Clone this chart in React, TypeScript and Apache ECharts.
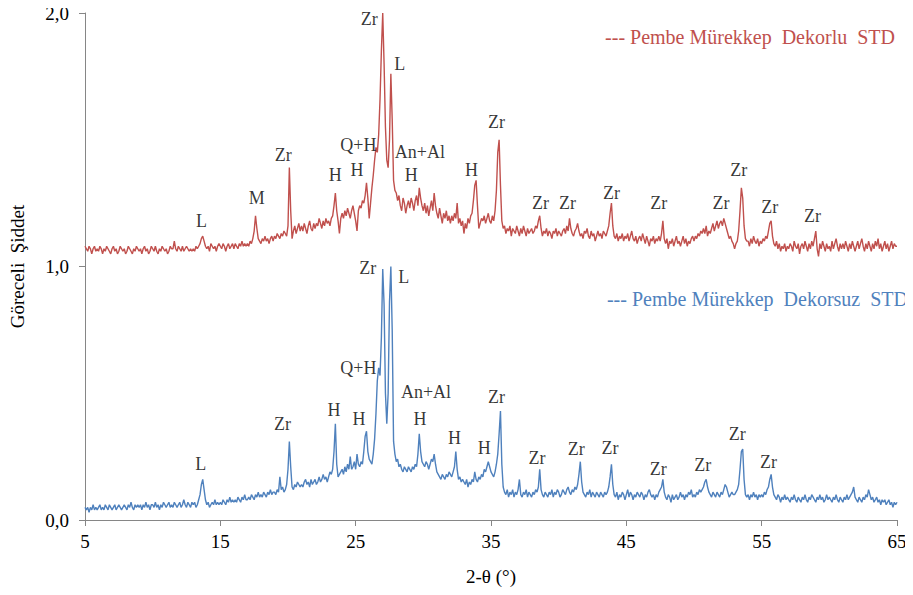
import React, { useEffect, useRef } from "react";
import * as echarts from "echarts";

// 2-theta grid: 5.0 .. 65.0 step 0.1 (601 points); intensities
const startDeg = 5;
const endDeg = 65;

const redValues: number[] = [
  1.08,1.07,1.06,1.08,1.07,1.05,1.07,1.08,1.06,1.07,
  1.06,1.08,1.07,1.05,1.07,1.06,1.08,1.07,1.06,1.05,
  1.07,1.08,1.06,1.07,1.05,1.06,1.08,1.07,1.06,1.07,
  1.05,1.06,1.08,1.07,1.06,1.05,1.07,1.06,1.08,1.07,
  1.06,1.07,1.05,1.07,1.08,1.06,1.07,1.05,1.06,1.08,
  1.07,1.06,1.08,1.06,1.05,1.07,1.06,1.08,1.07,1.06,
  1.07,1.05,1.06,1.08,1.07,1.07,1.10,1.07,1.06,1.08,
  1.07,1.06,1.08,1.06,1.07,1.08,1.07,1.06,1.07,1.06,
  1.07,1.06,1.08,1.07,1.08,1.09,1.11,1.12,1.10,1.08,
  1.07,1.08,1.06,1.09,1.08,1.07,1.08,1.06,1.08,1.09,
  1.08,1.07,1.09,1.08,1.06,1.08,1.09,1.07,1.08,1.09,
  1.07,1.09,1.08,1.07,1.09,1.08,1.10,1.08,1.09,1.08,
  1.09,1.08,1.10,1.09,1.11,1.14,1.20,1.15,1.11,1.10,
  1.09,1.11,1.10,1.12,1.10,1.11,1.09,1.11,1.12,1.10,
  1.12,1.11,1.13,1.12,1.11,1.13,1.12,1.14,1.13,1.12,
  1.16,1.39,1.22,1.11,1.14,1.16,1.13,1.15,1.17,1.14,
  1.16,1.14,1.17,1.15,1.13,1.16,1.18,1.15,1.14,1.17,
  1.15,1.17,1.16,1.19,1.17,1.15,1.18,1.16,1.19,1.17,
  1.18,1.16,1.19,1.20,1.24,1.29,1.22,1.18,1.13,1.19,
  1.21,1.19,1.22,1.20,1.23,1.21,1.19,1.22,1.24,1.21,
  1.18,1.14,1.22,1.24,1.23,1.26,1.25,1.28,1.33,1.27,
  1.19,1.25,1.31,1.36,1.42,1.47,1.45,1.52,1.66,1.85,
  2.00,1.80,1.55,1.42,1.39,1.50,1.76,1.58,1.34,1.30,
  1.29,1.26,1.28,1.24,1.22,1.27,1.25,1.21,1.24,1.26,
  1.23,1.27,1.25,1.22,1.26,1.28,1.24,1.31,1.27,1.24,
  1.22,1.25,1.21,1.24,1.20,1.23,1.26,1.22,1.29,1.24,
  1.21,1.19,1.23,1.20,1.17,1.21,1.19,1.22,1.18,1.20,
  1.17,1.20,1.18,1.21,1.19,1.25,1.17,1.19,1.16,1.18,
  1.13,1.17,1.15,1.19,1.17,1.20,1.21,1.26,1.32,1.34,
  1.24,1.15,1.17,1.19,1.18,1.20,1.17,1.19,1.21,1.18,
  1.17,1.20,1.18,1.22,1.30,1.45,1.50,1.32,1.18,1.15,
  1.16,1.13,1.15,1.14,1.16,1.12,1.15,1.14,1.13,1.16,
  1.14,1.12,1.15,1.13,1.16,1.14,1.12,1.15,1.13,1.14,
  1.15,1.13,1.14,1.16,1.15,1.18,1.20,1.15,1.12,1.14,
  1.13,1.15,1.12,1.14,1.13,1.11,1.14,1.13,1.15,1.12,
  1.14,1.13,1.12,1.14,1.15,1.13,1.16,1.14,1.19,1.15,
  1.13,1.12,1.14,1.15,1.17,1.14,1.12,1.13,1.11,1.14,
  1.13,1.15,1.12,1.11,1.14,1.12,1.13,1.10,1.12,1.14,
  1.12,1.13,1.11,1.14,1.13,1.12,1.14,1.16,1.21,1.25,
  1.16,1.12,1.11,1.13,1.10,1.12,1.11,1.13,1.10,1.12,
  1.11,1.13,1.10,1.12,1.14,1.11,1.10,1.12,1.09,1.11,
  1.12,1.10,1.13,1.11,1.09,1.12,1.10,1.08,1.11,1.10,
  1.12,1.09,1.11,1.10,1.12,1.10,1.13,1.18,1.11,1.09,
  1.11,1.07,1.10,1.09,1.11,1.08,1.10,1.12,1.09,1.10,
  1.08,1.10,1.12,1.09,1.11,1.08,1.10,1.09,1.11,1.12,
  1.10,1.12,1.11,1.13,1.12,1.14,1.13,1.15,1.13,1.16,
  1.12,1.14,1.13,1.15,1.17,1.14,1.16,1.18,1.15,1.17,
  1.18,1.16,1.19,1.17,1.15,1.13,1.11,1.12,1.10,1.09,
  1.07,1.09,1.10,1.14,1.22,1.31,1.27,1.16,1.11,1.10,
  1.10,1.08,1.11,1.09,1.12,1.10,1.09,1.11,1.08,1.10,
  1.09,1.11,1.10,1.12,1.11,1.14,1.17,1.18,1.12,1.09,
  1.08,1.10,1.07,1.09,1.06,1.08,1.07,1.09,1.06,1.08,
  1.07,1.09,1.08,1.06,1.10,1.08,1.07,1.09,1.05,1.08,
  1.09,1.07,1.10,1.08,1.06,1.09,1.07,1.10,1.08,1.11,
  1.14,1.07,1.04,1.09,1.07,1.10,1.08,1.06,1.09,1.07,
  1.08,1.06,1.10,1.07,1.09,1.11,1.08,1.06,1.09,1.07,
  1.09,1.07,1.10,1.08,1.06,1.09,1.07,1.10,1.08,1.06,
  1.08,1.10,1.07,1.09,1.11,1.08,1.06,1.09,1.07,1.10,
  1.08,1.06,1.09,1.07,1.10,1.08,1.11,1.07,1.09,1.06,
  1.08,1.10,1.07,1.09,1.06,1.08,1.10,1.07,1.09,1.08,
  1.08,
];

const blueValues: number[] = [
  0.05,0.04,0.05,0.03,0.05,0.04,0.06,0.04,0.05,0.04,
  0.05,0.06,0.04,0.05,0.04,0.06,0.05,0.04,0.06,0.05,
  0.04,0.05,0.06,0.04,0.05,0.06,0.05,0.04,0.05,0.06,
  0.05,0.04,0.06,0.05,0.07,0.05,0.04,0.06,0.05,0.06,
  0.05,0.06,0.04,0.06,0.05,0.07,0.05,0.06,0.04,0.06,
  0.06,0.05,0.07,0.05,0.06,0.04,0.06,0.05,0.07,0.06,
  0.05,0.06,0.07,0.05,0.06,0.05,0.07,0.06,0.05,0.06,
  0.07,0.05,0.06,0.08,0.06,0.05,0.07,0.06,0.05,0.07,
  0.06,0.07,0.05,0.06,0.08,0.10,0.14,0.16,0.12,0.08,
  0.06,0.07,0.05,0.06,0.07,0.06,0.08,0.06,0.07,0.06,
  0.07,0.06,0.08,0.07,0.06,0.08,0.07,0.09,0.07,0.08,
  0.07,0.08,0.07,0.09,0.08,0.07,0.09,0.08,0.10,0.08,
  0.08,0.09,0.08,0.10,0.09,0.08,0.10,0.09,0.11,0.09,
  0.10,0.09,0.11,0.10,0.09,0.11,0.10,0.12,0.10,0.11,
  0.11,0.10,0.12,0.11,0.17,0.12,0.13,0.11,0.12,0.14,
  0.20,0.31,0.21,0.13,0.12,0.14,0.13,0.15,0.14,0.13,
  0.14,0.13,0.15,0.16,0.14,0.15,0.13,0.16,0.14,0.15,
  0.16,0.14,0.15,0.17,0.15,0.16,0.18,0.16,0.17,0.15,
  0.17,0.19,0.18,0.20,0.27,0.38,0.22,0.17,0.18,0.19,
  0.20,0.18,0.21,0.19,0.22,0.20,0.25,0.20,0.21,0.23,
  0.20,0.26,0.22,0.21,0.23,0.22,0.27,0.33,0.35,0.27,
  0.24,0.23,0.22,0.26,0.32,0.42,0.55,0.60,0.57,0.72,
  0.99,0.85,0.50,0.38,0.50,0.86,1.00,0.75,0.31,0.26,
  0.23,0.24,0.21,0.22,0.20,0.19,0.21,0.20,0.19,0.21,
  0.20,0.19,0.21,0.20,0.22,0.21,0.26,0.34,0.27,0.23,
  0.22,0.21,0.23,0.22,0.20,0.22,0.24,0.23,0.26,0.22,
  0.19,0.18,0.17,0.16,0.18,0.17,0.16,0.18,0.17,0.19,
  0.18,0.17,0.19,0.21,0.27,0.20,0.16,0.17,0.15,0.16,
  0.15,0.14,0.16,0.13,0.15,0.14,0.16,0.15,0.19,0.16,
  0.15,0.17,0.16,0.18,0.17,0.20,0.19,0.21,0.23,0.21,
  0.19,0.18,0.17,0.19,0.22,0.26,0.34,0.43,0.22,0.13,
  0.11,0.10,0.12,0.09,0.11,0.10,0.12,0.09,0.11,0.10,
  0.12,0.16,0.10,0.09,0.11,0.10,0.12,0.09,0.11,0.10,
  0.09,0.11,0.10,0.12,0.11,0.13,0.20,0.12,0.10,0.09,
  0.11,0.10,0.09,0.11,0.10,0.12,0.09,0.11,0.10,0.12,
  0.11,0.09,0.10,0.12,0.11,0.10,0.12,0.13,0.11,0.10,
  0.12,0.11,0.13,0.12,0.14,0.18,0.23,0.15,0.11,0.10,
  0.09,0.11,0.10,0.12,0.09,0.11,0.10,0.09,0.11,0.10,
  0.09,0.11,0.10,0.09,0.11,0.10,0.11,0.13,0.17,0.22,
  0.14,0.10,0.09,0.11,0.08,0.10,0.09,0.11,0.10,0.08,
  0.10,0.12,0.09,0.11,0.10,0.08,0.10,0.09,0.11,0.10,
  0.09,0.11,0.10,0.08,0.10,0.09,0.11,0.12,0.10,0.09,
  0.10,0.08,0.10,0.09,0.11,0.12,0.13,0.16,0.11,0.09,
  0.08,0.10,0.09,0.07,0.10,0.08,0.09,0.10,0.08,0.09,
  0.11,0.09,0.10,0.08,0.10,0.09,0.11,0.10,0.12,0.09,
  0.10,0.09,0.11,0.10,0.12,0.11,0.12,0.13,0.15,0.16,
  0.13,0.11,0.10,0.09,0.11,0.10,0.09,0.11,0.10,0.09,
  0.11,0.10,0.12,0.14,0.13,0.11,0.09,0.10,0.11,0.10,
  0.10,0.11,0.12,0.14,0.20,0.27,0.28,0.16,0.10,0.09,
  0.10,0.08,0.10,0.09,0.11,0.09,0.10,0.08,0.10,0.09,
  0.10,0.09,0.11,0.10,0.12,0.13,0.16,0.18,0.13,0.10,
  0.09,0.08,0.10,0.09,0.07,0.09,0.08,0.10,0.08,0.09,
  0.08,0.07,0.09,0.08,0.10,0.08,0.07,0.09,0.08,0.07,
  0.09,0.08,0.10,0.08,0.07,0.09,0.08,0.10,0.09,0.08,
  0.07,0.09,0.08,0.10,0.08,0.09,0.07,0.08,0.10,0.08,
  0.09,0.08,0.07,0.09,0.08,0.10,0.08,0.07,0.09,0.08,
  0.07,0.09,0.08,0.10,0.08,0.09,0.10,0.11,0.13,0.09,
  0.08,0.07,0.09,0.08,0.07,0.09,0.08,0.10,0.09,0.12,
  0.10,0.08,0.09,0.07,0.08,0.09,0.07,0.08,0.06,0.08,
  0.07,0.08,0.06,0.07,0.08,0.06,0.07,0.05,0.07,0.06,
  0.07,
];

// Peak annotations: [text, 2-theta, intensity]
const redLabels: [string, number, number][] = [
  ["L", 13.6, 1.18], ["M", 17.7, 1.27], ["Zr", 19.65, 1.44], ["H", 23.5, 1.36],
  ["Q+H", 25.2, 1.48], ["H", 25.1, 1.38], ["Zr", 26.0, 1.975], ["L", 28.25, 1.8],
  ["An+Al", 29.75, 1.45], ["H", 29.1, 1.36], ["H", 33.55, 1.38], ["Zr", 35.4, 1.57],
  ["Zr", 38.65, 1.25], ["Zr", 40.65, 1.25], ["Zr", 43.9, 1.29], ["Zr", 47.4, 1.25],
  ["Zr", 52.0, 1.25], ["Zr", 53.3, 1.38], ["Zr", 55.6, 1.235], ["Zr", 58.75, 1.2],
];
const blueLabels: [string, number, number][] = [
  ["L", 13.55, 0.22], ["Zr", 19.6, 0.38], ["H", 23.4, 0.435], ["H", 25.25, 0.4],
  ["Q+H", 25.2, 0.6], ["Zr", 25.9, 0.995], ["L", 28.55, 0.96], ["An+Al", 30.2, 0.505],
  ["H", 29.75, 0.4], ["H", 32.3, 0.325], ["H", 34.5, 0.285], ["Zr", 35.4, 0.485],
  ["Zr", 38.4, 0.245], ["Zr", 41.3, 0.28], ["Zr", 43.8, 0.285], ["Zr", 47.35, 0.2],
  ["Zr", 50.65, 0.215], ["Zr", 53.2, 0.34], ["Zr", 55.5, 0.23],
];

const redName = "--- Pembe Mürekkep  Dekorlu  STD";
const blueName = "--- Pembe Mürekkep  Dekorsuz  STD";
const yTicks = [0, 1, 2];
const xTitle = "2-θ (°)";
const yTitle = "Göreceli  Şiddet";

const RED = "#C0504D";
const BLUE = "#4F81BD";
const FONT = "Liberation Serif";

const toPairs = (vals: number[]) => vals.map((v, i) => [(startDeg * 10 + i) / 10, v]);
const labelData = (arr: [string, number, number][]) =>
  arr.map(([t, x, y]) => ({ name: t, value: [x, y] }));

export default function App() {
  const ref = useRef<HTMLDivElement>(null);
  useEffect(() => {
    if (!ref.current) return;
    const chart = echarts.init(ref.current, null, { renderer: "svg" });
    const labelSeries = (arr: [string, number, number][]) => ({
      type: "scatter",
      data: labelData(arr),
      symbol: "circle",
      symbolSize: 1,
      itemStyle: { color: "rgba(0,0,0,0)" },
      silent: true,
      z: 5,
      label: {
        show: true,
        position: "inside",
        formatter: (p: any) => p.name,
        fontFamily: FONT,
        fontSize: 18,
        color: "#000",
      },
    });
    chart.setOption({
      animation: false,
      backgroundColor: "#fff",
      textStyle: { fontFamily: FONT },
      grid: { left: 82, right: 16, top: 13, bottom: 75 },
      xAxis: {
        type: "value",
        min: startDeg,
        max: endDeg,
        interval: 10,
        name: xTitle,
        nameLocation: "middle",
        nameGap: 47,
        nameTextStyle: { fontFamily: FONT, fontSize: 19, color: "#000" },
        axisLine: { show: true, lineStyle: { color: "#868686", width: 1 } },
        axisTick: { show: true, length: 6, lineStyle: { color: "#868686" } },
        axisLabel: { fontFamily: FONT, fontSize: 19, color: "#000", margin: 12 },
        splitLine: { show: false },
      },
      yAxis: {
        type: "value",
        min: yTicks[0],
        max: yTicks[yTicks.length - 1],
        interval: 1,
        name: yTitle,
        nameLocation: "middle",
        nameGap: 58,
        nameTextStyle: { fontFamily: FONT, fontSize: 19, color: "#000" },
        axisLine: { show: true, lineStyle: { color: "#868686", width: 1 } },
        axisTick: { show: true, length: 6, lineStyle: { color: "#868686" } },
        axisLabel: {
          fontFamily: FONT,
          fontSize: 19,
          color: "#000",
          margin: 16,
          formatter: (v: number) => v.toFixed(1).replace(".", ","),
        },
        splitLine: { show: false },
      },
      graphic: [
        {
          type: "text",
          right: 18,
          top: 27,
          style: { text: redName, fill: RED, fontFamily: FONT, fontSize: 20 },
        },
        {
          type: "text",
          right: 5,
          top: 289,
          style: { text: blueName, fill: BLUE, fontFamily: FONT, fontSize: 20 },
        },
      ],
      series: [
        {
          name: "red",
          type: "line",
          data: toPairs(redValues),
          showSymbol: false,
          lineStyle: { color: RED, width: 1.4 },
          itemStyle: { color: RED },
          silent: true,
        },
        {
          name: "blue",
          type: "line",
          data: toPairs(blueValues),
          showSymbol: false,
          lineStyle: { color: BLUE, width: 1.4 },
          itemStyle: { color: BLUE },
          silent: true,
        },
        labelSeries(redLabels),
        labelSeries(blueLabels),
      ],
    });
    return () => chart.dispose();
  }, []);
  return <div ref={ref} style={{ width: 913, height: 595, margin: -8 }} />;
}
